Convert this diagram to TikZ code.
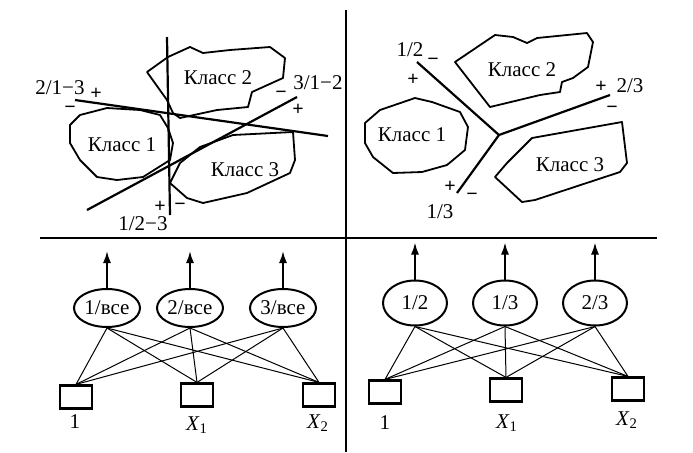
\documentclass[tikz,border=0pt]{standalone}
\usepackage{fontspec}
\setmainfont{Liberation Serif}
\usetikzlibrary{arrows.meta, positioning, shapes.geometric}

\begin{document}
\begin{tikzpicture}[
  x=0.5pt, y=-0.5pt,
  font=\fontsize{10.5}{12}\selectfont,
  divider/.style={line width=1.2pt},
  region/.style={line width=0.9pt, line join=round},
  cut/.style={line width=1.1pt},
  sgn/.style={inner sep=0pt, font=\fontsize{10}{10}\selectfont\bfseries},
  tag/.style={inner sep=0pt, font=\fontsize{10.5}{12}\selectfont},
  unit/.style={ellipse, draw, line width=1pt, minimum width=33pt, minimum height=19pt, inner sep=0pt},
  wideunit/.style={unit, minimum width=32pt, minimum height=22.5pt},
  input/.style={rectangle, draw, line width=1.1pt, minimum width=16pt, minimum height=11.5pt, inner sep=0pt},
  link/.style={line width=0.5pt},
  outarrow/.style={-{Latex[length=6pt, width=4pt]}, line width=0.9pt}
]
\useasboundingbox (0,0) rectangle (693,452);

% quadrant dividers
\coordinate (vtop) at (346,10);
\coordinate (vbot) at (346,452);
\coordinate (hleft) at (40,238);
\coordinate (hright) at (657,238);
\draw[divider] (vtop) -- (vbot);
\draw[divider] (hleft) -- (hright);

% ---- one class against the rest ----
\draw[region] (147,72) -- (168,57) -- (190,47) -- (203,53) -- (230,50) -- (270,47) -- (285,58)
  -- (283,78) -- (252,92) -- (248,107) -- (217,110) -- (180,118) -- (173,113) -- (167,100) -- cycle;
\draw[region] (70,125) -- (80,115) -- (107,108) -- (140,110) -- (160,115) -- (168,128) -- (173,143)
  -- (170,160) -- (143,177) -- (117,180) -- (97,177) -- (80,160) -- (70,143) -- cycle;
\draw[region] (180,163) -- (200,147) -- (233,135) -- (293,132) -- (295,160) -- (290,173)
  -- (247,193) -- (203,203) -- (187,198) -- (170,183) -- cycle;
\node (k2a) at (218,78) {Класс 2};
\node (k1a) at (122,145) {Класс 1};
\node (k3a) at (245,170) {Класс 3};

\coordinate (c1a) at (167,37);  \coordinate (c1b) at (170,215);
\coordinate (c2a) at (75,100);  \coordinate (c2b) at (328,136);
\coordinate (c3a) at (87,210);  \coordinate (c3b) at (297,97);
\draw[cut] (c1a) -- (c1b);
\draw[cut] (c2a) -- (c2b);
\draw[cut] (c3a) -- (c3b);

\node[tag] (t21) at (60,88) {2/1−3};
\node[sgn] (p21) at (96,94) {+};
\node[sgn] (m21) at (70,110) {−};
\node[tag] (t31) at (318,83) {3/1−2};
\node[sgn] (m31) at (281,95) {−};
\node[sgn] (p31) at (298,110) {+};
\node[tag] (t12) at (143,224) {1/2−3};
\node[sgn] (p12) at (160,207) {+};
\node[sgn] (m12) at (180,207) {−};

% ---- pairwise separation ----
\draw[region] (455,62) -- (495,35) -- (513,37) -- (527,43) -- (537,38) -- (587,33) -- (593,42)
  -- (588,67) -- (573,78) -- (562,82) -- (560,92) -- (540,95) -- (490,107) -- cycle;
\draw[region] (365,123) -- (380,110) -- (415,98) -- (432,102) -- (460,112) -- (468,127) -- (465,150)
  -- (447,165) -- (422,172) -- (393,173) -- (373,157) -- (365,143) -- cycle;
\draw[region] (495,177) -- (507,163) -- (532,138) -- (622,122) -- (627,163) -- (620,172)
  -- (535,200) -- (522,202) -- cycle;
\node (k2b) at (522,70) {Класс 2};
\node (k1b) at (412,135) {Класс 1};
\node (k3b) at (570,165) {Класс 3};

\coordinate (ymid) at (499,135);
\coordinate (y12) at (417,62);
\coordinate (y23) at (610,95);
\coordinate (y13) at (457,193);
\draw[cut] (y12) -- (ymid) -- (y23);
\draw[cut] (ymid) -- (y13);

\node[tag] (s12) at (410,50) {1/2};
\node[sgn] (m12b) at (433,62) {−};
\node[sgn] (p12b) at (413,80) {+};
\node[tag] (s23) at (630,86) {2/3};
\node[sgn] (p23b) at (601,87) {+};
\node[sgn] (m23b) at (612,110) {−};
\node[tag] (s13) at (440,212) {1/3};
\node[sgn] (p13b) at (450,187) {+};
\node[sgn] (m13b) at (472,197) {−};

% ---- networks ----
\node[unit] (a1) at (107,308) {1/все};
\node[unit] (a2) at (190,308) {2/все};
\node[unit] (a3) at (283,308) {3/все};
\node[input] (p1) at (76,397) {};
\node[input] (p2) at (197,395) {};
\node[input] (p3) at (319,395) {};
\node[tag] (l1) at (75,422) {1};
\node[tag] (l2) at (197,425) {\textit{X}\textsubscript{1}};
\node[tag] (l3) at (318,423) {\textit{X}\textsubscript{2}};

\node[wideunit] (b1) at (415,303) {1/2};
\node[wideunit] (b2) at (505,303) {1/3};
\node[wideunit] (b3) at (595,303) {2/3};
\node[input] (q1) at (385,392) {};
\node[input] (q2) at (506,390) {};
\node[input] (q3) at (628,389) {};
\node[tag] (r1) at (385,423) {1};
\node[tag] (r2) at (507,423) {\textit{X}\textsubscript{1}};
\node[tag] (r3) at (627,420) {\textit{X}\textsubscript{2}};

\foreach \e in {a1,a2,a3}
  \foreach \b in {p1,p2,p3}
    \draw[link] (\e.south) -- (\b.north);
\foreach \e in {b1,b2,b3}
  \foreach \b in {q1,q2,q3}
    \draw[link] (\e.south) -- (\b.north);

% outputs
\foreach \e in {a1,a2,a3,b1,b2,b3} {
  \coordinate (\e o) at ([yshift=18.5pt]\e.north);
  \draw[outarrow] (\e.north) -- (\e o);
}
\end{tikzpicture}
\end{document}
